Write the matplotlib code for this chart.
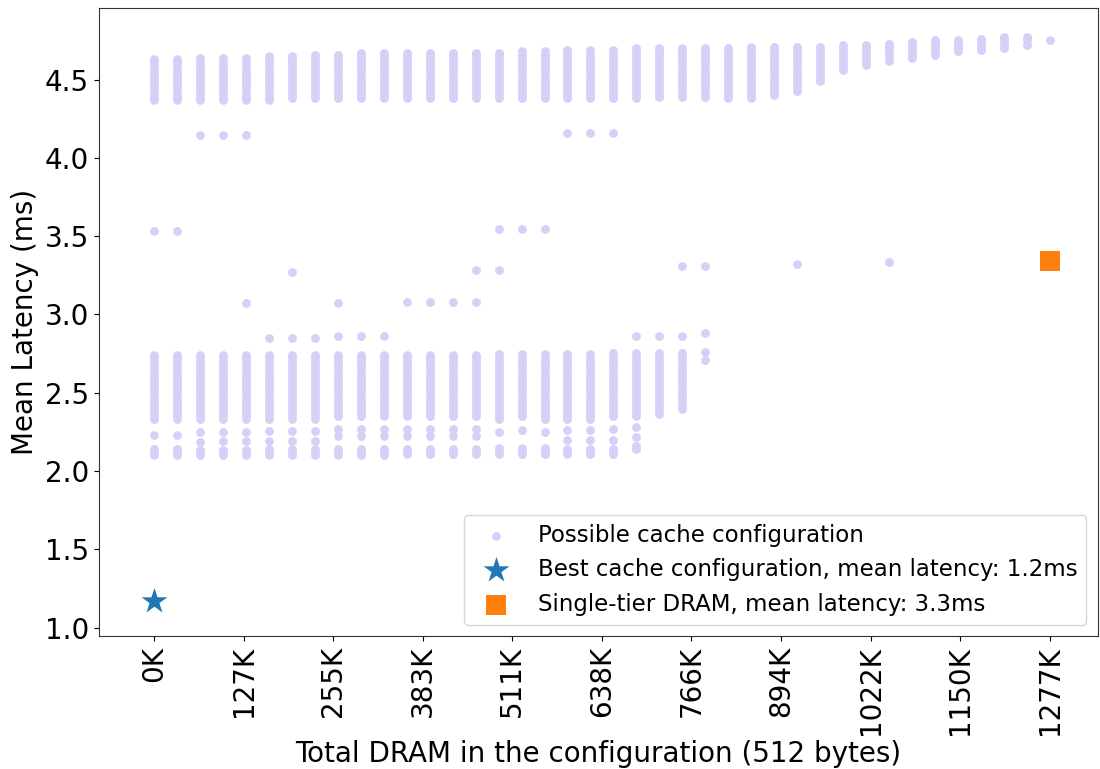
import matplotlib
matplotlib.use("Agg")
import matplotlib.pyplot as plt

# ---------------- data ----------------
# x position (K units of 512 bytes) of each of the 40 configuration columns
dram_k = [0.0, 32.8, 65.5, 98.3, 131.0, 163.8, 196.5, 229.3, 262.1, 294.8,
          327.6, 360.3, 393.1, 425.8, 458.6, 491.3, 524.1, 556.9, 589.6, 622.4,
          655.1, 687.9, 720.6, 753.4, 786.2, 818.9, 851.7, 884.4, 917.2, 949.9,
          982.7, 1015.5, 1048.2, 1081.0, 1113.7, 1146.5, 1179.2, 1212.0, 1244.7, 1277.5]

# upper cluster of mean latencies (ms) per column
top_band = [
    [4.37, 4.39, 4.41, 4.43, 4.45, 4.47, 4.49, 4.51, 4.53, 4.55, 4.57, 4.59, 4.61, 4.63],
    [4.37, 4.39, 4.41, 4.43, 4.45, 4.47, 4.49, 4.51, 4.53, 4.55, 4.57, 4.59, 4.61, 4.63],
    [4.37, 4.39, 4.41, 4.43, 4.45, 4.47, 4.49, 4.51, 4.53, 4.55, 4.57, 4.59, 4.61, 4.64],
    [4.37, 4.39, 4.41, 4.43, 4.45, 4.47, 4.49, 4.51, 4.53, 4.55, 4.57, 4.59, 4.61, 4.64],
    [4.37, 4.39, 4.41, 4.43, 4.45, 4.47, 4.49, 4.51, 4.53, 4.55, 4.57, 4.59, 4.61, 4.64],
    [4.37, 4.39, 4.41, 4.43, 4.45, 4.47, 4.49, 4.51, 4.53, 4.55, 4.57, 4.59, 4.61, 4.63, 4.65],
    [4.38, 4.40, 4.42, 4.44, 4.46, 4.48, 4.50, 4.52, 4.54, 4.56, 4.58, 4.60, 4.62, 4.64, 4.65],
    [4.38, 4.40, 4.42, 4.44, 4.46, 4.48, 4.50, 4.52, 4.54, 4.56, 4.58, 4.60, 4.62, 4.64, 4.66],
    [4.38, 4.40, 4.42, 4.44, 4.46, 4.48, 4.50, 4.52, 4.54, 4.56, 4.58, 4.60, 4.62, 4.64, 4.66],
    [4.38, 4.40, 4.42, 4.44, 4.46, 4.48, 4.50, 4.52, 4.54, 4.56, 4.58, 4.60, 4.62, 4.64, 4.66, 4.67],
    [4.38, 4.40, 4.42, 4.44, 4.46, 4.48, 4.50, 4.52, 4.54, 4.56, 4.58, 4.60, 4.62, 4.64, 4.66, 4.67],
    [4.38, 4.40, 4.42, 4.44, 4.46, 4.48, 4.50, 4.52, 4.54, 4.56, 4.58, 4.60, 4.62, 4.64, 4.66, 4.67],
    [4.38, 4.40, 4.42, 4.44, 4.46, 4.48, 4.50, 4.52, 4.54, 4.56, 4.58, 4.60, 4.62, 4.64, 4.66, 4.67],
    [4.38, 4.40, 4.42, 4.44, 4.46, 4.48, 4.50, 4.52, 4.54, 4.56, 4.58, 4.60, 4.62, 4.64, 4.66, 4.67],
    [4.38, 4.40, 4.42, 4.44, 4.46, 4.48, 4.50, 4.52, 4.54, 4.56, 4.58, 4.60, 4.62, 4.64, 4.66, 4.67],
    [4.38, 4.40, 4.42, 4.44, 4.46, 4.48, 4.50, 4.52, 4.54, 4.56, 4.58, 4.60, 4.62, 4.64, 4.66, 4.67],
    [4.38, 4.40, 4.42, 4.44, 4.46, 4.48, 4.50, 4.52, 4.54, 4.56, 4.58, 4.60, 4.62, 4.64, 4.66, 4.68],
    [4.38, 4.40, 4.42, 4.44, 4.46, 4.48, 4.50, 4.52, 4.54, 4.56, 4.58, 4.60, 4.62, 4.64, 4.66, 4.68],
    [4.38, 4.40, 4.42, 4.44, 4.46, 4.48, 4.50, 4.52, 4.54, 4.56, 4.58, 4.60, 4.62, 4.64, 4.66, 4.68, 4.69],
    [4.38, 4.40, 4.42, 4.44, 4.46, 4.48, 4.50, 4.52, 4.54, 4.56, 4.58, 4.60, 4.62, 4.64, 4.66, 4.68, 4.69],
    [4.38, 4.40, 4.42, 4.44, 4.46, 4.48, 4.50, 4.52, 4.54, 4.56, 4.58, 4.60, 4.62, 4.64, 4.66, 4.68, 4.69],
    [4.38, 4.40, 4.42, 4.44, 4.46, 4.48, 4.50, 4.52, 4.54, 4.56, 4.58, 4.60, 4.62, 4.64, 4.66, 4.68, 4.70],
    [4.39, 4.41, 4.43, 4.45, 4.47, 4.49, 4.51, 4.53, 4.55, 4.57, 4.59, 4.61, 4.63, 4.65, 4.67, 4.69, 4.70],
    [4.39, 4.41, 4.43, 4.45, 4.47, 4.49, 4.51, 4.53, 4.55, 4.57, 4.59, 4.61, 4.63, 4.65, 4.67, 4.69, 4.70],
    [4.39, 4.41, 4.43, 4.45, 4.47, 4.49, 4.51, 4.53, 4.55, 4.57, 4.59, 4.61, 4.63, 4.65, 4.67, 4.69, 4.70],
    [4.38, 4.40, 4.42, 4.44, 4.46, 4.48, 4.50, 4.52, 4.54, 4.56, 4.58, 4.60, 4.62, 4.64, 4.66, 4.68, 4.70],
    [4.38, 4.40, 4.42, 4.44, 4.46, 4.48, 4.50, 4.52, 4.54, 4.56, 4.58, 4.60, 4.62, 4.64, 4.66, 4.68, 4.70, 4.71],
    [4.40, 4.42, 4.44, 4.46, 4.48, 4.50, 4.52, 4.54, 4.56, 4.58, 4.60, 4.62, 4.64, 4.66, 4.68, 4.70, 4.71],
    [4.43, 4.45, 4.47, 4.49, 4.51, 4.53, 4.55, 4.57, 4.59, 4.61, 4.63, 4.65, 4.67, 4.69, 4.71],
    [4.49, 4.51, 4.53, 4.55, 4.57, 4.59, 4.61, 4.63, 4.65, 4.67, 4.69, 4.71],
    [4.56, 4.58, 4.60, 4.62, 4.64, 4.66, 4.68, 4.70, 4.72],
    [4.59, 4.61, 4.63, 4.65, 4.67, 4.69, 4.71, 4.72],
    [4.62, 4.64, 4.66, 4.68, 4.70, 4.72, 4.73],
    [4.64, 4.66, 4.68, 4.70, 4.72, 4.74],
    [4.66, 4.68, 4.70, 4.72, 4.74, 4.75],
    [4.68, 4.70, 4.72, 4.74, 4.75],
    [4.69, 4.71, 4.73, 4.75, 4.76],
    [4.70, 4.72, 4.74, 4.76, 4.77],
    [4.72, 4.73, 4.76, 4.77],
    [4.755],
]

# lower cluster: dense runs of latencies shared by neighbouring columns
run_a = [2.335, 2.355, 2.375, 2.395, 2.415, 2.435, 2.455, 2.475, 2.495, 2.515, 2.535,
         2.555, 2.575, 2.595, 2.615, 2.635, 2.655, 2.675, 2.695, 2.72, 2.74]
run_b = [2.35, 2.37, 2.39, 2.41, 2.43, 2.45, 2.47, 2.49, 2.51, 2.53, 2.55,
         2.57, 2.59, 2.61, 2.63, 2.65, 2.67, 2.69, 2.71, 2.73, 2.743]
run_c = [2.33, 2.35, 2.37, 2.39, 2.41, 2.43, 2.45, 2.47, 2.49, 2.51, 2.53,
         2.55, 2.57, 2.59, 2.61, 2.63, 2.65, 2.67, 2.69, 2.71, 2.73, 2.75]
run_d = [2.35, 2.37, 2.39, 2.41, 2.43, 2.45, 2.47, 2.49, 2.51, 2.53, 2.55,
         2.57, 2.59, 2.61, 2.63, 2.65, 2.67, 2.69, 2.71, 2.73, 2.754]
run_e = [2.367, 2.39, 2.41, 2.43, 2.45, 2.47, 2.49, 2.51, 2.53, 2.55,
         2.57, 2.59, 2.61, 2.63, 2.65, 2.67, 2.69, 2.71, 2.73, 2.754]
run_f = [2.398, 2.42, 2.44, 2.46, 2.48, 2.50, 2.52, 2.54, 2.56,
         2.58, 2.60, 2.62, 2.64, 2.66, 2.68, 2.70, 2.72, 2.74, 2.754]

# lower cluster of mean latencies (ms) for the first 25 columns
lower_band = [
    [2.105, 2.12, 2.14, 2.23] + run_a,
    [2.105, 2.12, 2.14, 2.23] + run_a,
    [2.105, 2.12, 2.135, 2.183, 2.247] + run_a,
    [2.105, 2.12, 2.135, 2.19, 2.247] + run_a,
    [2.105, 2.12, 2.135, 2.195, 2.247] + run_a,
    [2.105, 2.12, 2.14, 2.19, 2.258] + run_a,
    [2.105, 2.12, 2.14, 2.19, 2.258] + run_a,
    [2.105, 2.12, 2.14, 2.19, 2.258] + run_a,
    [2.105, 2.12, 2.14, 2.222, 2.27] + run_b,
    [2.105, 2.12, 2.14, 2.222, 2.27] + run_b,
    [2.105, 2.12, 2.14, 2.222, 2.27] + run_b,
    [2.11, 2.125, 2.14, 2.226, 2.271] + run_b,
    [2.11, 2.125, 2.14, 2.226, 2.271] + run_b,
    [2.11, 2.125, 2.14, 2.226, 2.271] + run_b,
    [2.11, 2.125, 2.14, 2.226, 2.271] + run_b,
    [2.11, 2.13, 2.15, 2.247] + run_c,
    [2.11, 2.13, 2.15, 2.264] + run_c[1:],
    [2.11, 2.13, 2.15, 2.25] + run_c,
    [2.11, 2.125, 2.14, 2.20, 2.264] + run_c,
    [2.11, 2.125, 2.14, 2.20, 2.264] + run_c,
    [2.11, 2.125, 2.14, 2.20, 2.27] + run_d,
    [2.14, 2.16, 2.218, 2.28] + run_d,
    run_e,
    run_f,
    [2.711, 2.758],
]

# isolated configurations: column index and mean latency (ms)
outlier_col = [0, 1, 2, 3, 4, 4, 6, 8, 11, 12, 13, 14, 14, 15, 15, 16, 17,
               18, 19, 20, 23, 24, 28, 32,
               5, 6, 7, 8, 9, 10, 21, 22, 23, 24]
outlier_lat = [3.535, 3.535, 4.144, 4.144, 4.144, 3.075, 3.271, 3.075, 3.077, 3.077,
               3.077, 3.077, 3.286, 3.286, 3.546, 3.546, 3.546,
               4.157, 4.157, 4.157, 3.312, 3.312, 3.32, 3.335,
               2.848, 2.848, 2.848, 2.863, 2.863, 2.863, 2.865, 2.865, 2.865, 2.88]

best_k = [0.0]
best_lat = [1.17]
dram_only_k = [1277.5]
dram_only_lat = [3.34]

tick_k = [0.0, 127.75, 255.5, 383.25, 511.0, 638.75, 766.5, 894.25, 1022.0, 1149.75, 1277.5]
tick_labels = ["0K", "127K", "255K", "383K", "511K", "638K", "766K", "894K",
               "1022K", "1150K", "1277K"]

# ---------------- build point lists ----------------
xs, ys = [], []
for i, vals in enumerate(top_band):
    xs += [dram_k[i]] * len(vals)
    ys += vals
for i, vals in enumerate(lower_band):
    xs += [dram_k[i]] * len(vals)
    ys += vals
for c, v in zip(outlier_col, outlier_lat):
    xs.append(dram_k[c])
    ys.append(v)

# ---------------- plot ----------------
fig = plt.figure(figsize=(11.0, 7.69), dpi=100)
ax = fig.add_axes([0.0897, 0.1726, 0.9083, 0.8170])

ax.scatter(xs, ys, s=40, color="#d6d0f8", linewidths=0,
           label="Possible cache configuration", zorder=2)
ax.scatter(best_k, best_lat, s=380, marker="*", color="#1f77b4", linewidths=0,
           label="Best cache configuration, mean latency: 1.2ms", zorder=3)
ax.scatter(dram_only_k, dram_only_lat, s=220, marker="s", color="#ff7f0e", linewidths=0,
           label="Single-tier DRAM, mean latency: 3.3ms", zorder=3)

ax.set_xlim(-79, 1346)
ax.set_ylim(0.945, 4.957)
ax.set_xticks(tick_k)
ax.set_xticklabels(tick_labels, rotation=90, fontsize=20)
ax.set_yticks([1.0, 1.5, 2.0, 2.5, 3.0, 3.5, 4.0, 4.5])
ax.set_yticklabels(["1.0", "1.5", "2.0", "2.5", "3.0", "3.5", "4.0", "4.5"], fontsize=20)
ax.set_xlabel("Total DRAM in the configuration (512 bytes)", fontsize=20)
ax.set_ylabel("Mean Latency (ms)", fontsize=20)
for sp in ax.spines.values():
    sp.set_color("#333333")

ax.legend(loc="lower right", fontsize=16.5)

fig.savefig("out.png", dpi=100)
